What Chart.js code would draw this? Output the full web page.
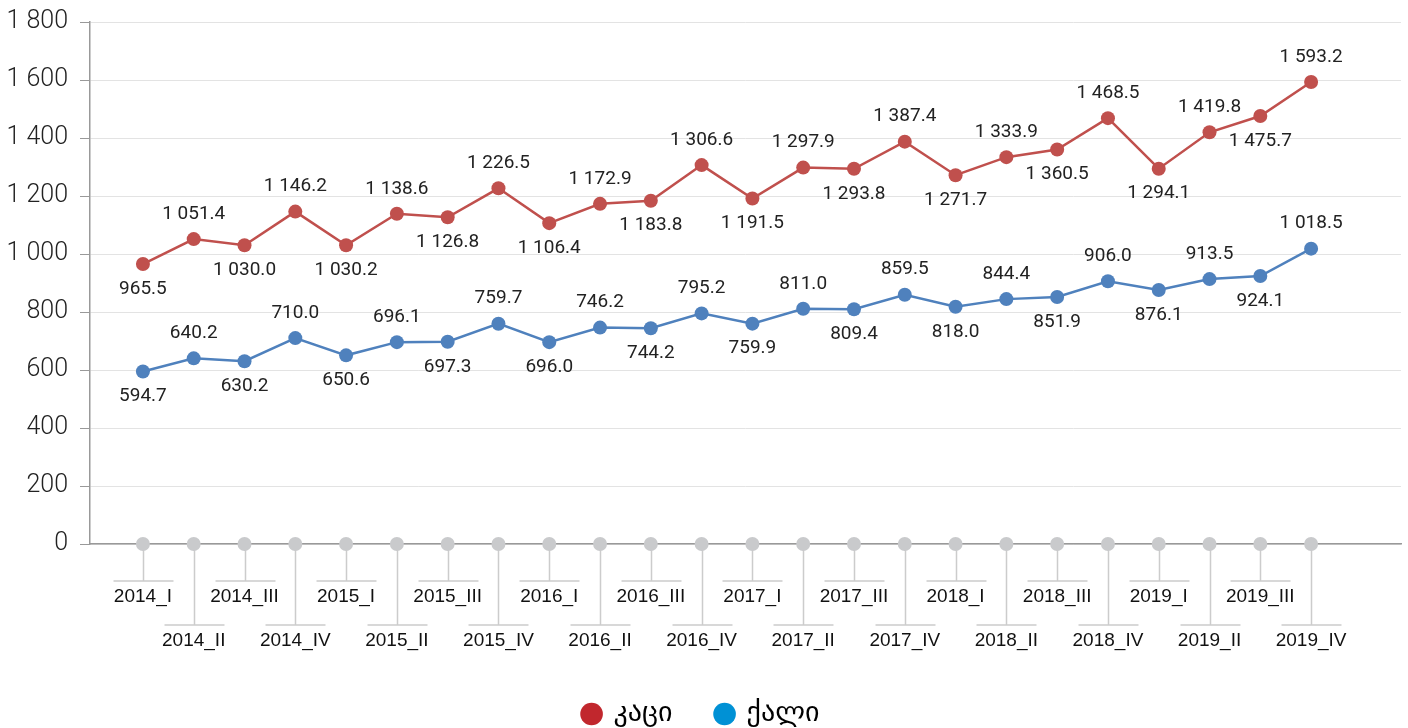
<!DOCTYPE html>
<html>
<head>
<meta charset="utf-8">
<script src="https://cdn.jsdelivr.net/npm/chart.js@4"></script>
<style>
    html, body { margin: 0; padding: 0; background: #fff; }
    #wrap { width: 1408px; height: 728px; }
</style>
</head>
<body>
<div id="wrap"><canvas id="chart"></canvas></div>
<script>
const quarters = ['2014_I', '2014_II', '2014_III', '2014_IV', '2015_I', '2015_II', '2015_III', '2015_IV',
    '2016_I', '2016_II', '2016_III', '2016_IV', '2017_I', '2017_II', '2017_III', '2017_IV',
    '2018_I', '2018_II', '2018_III', '2018_IV', '2019_I', '2019_II', '2019_III', '2019_IV'];
const men = [965.5, 1051.4, 1030.0, 1146.2, 1030.2, 1138.6, 1126.8, 1226.5, 1106.4, 1172.9, 1183.8, 1306.6,
    1191.5, 1297.9, 1293.8, 1387.4, 1271.7, 1333.9, 1360.5, 1468.5, 1294.1, 1419.8, 1475.7, 1593.2];
const women = [594.7, 640.2, 630.2, 710.0, 650.6, 696.1, 697.3, 759.7, 696.0, 746.2, 744.2, 795.2,
    759.9, 811.0, 809.4, 859.5, 818.0, 844.4, 851.9, 906.0, 876.1, 913.5, 924.1, 1018.5];
const baseline = [0, 0, 0, 0, 0, 0, 0, 0, 0, 0, 0, 0, 0, 0, 0, 0, 0, 0, 0, 0, 0, 0, 0, 0];
const yTicks = [0, 200, 400, 600, 800, 1000, 1200, 1400, 1600, 1800];
const seriesNames = ['კაცი', 'ქალი'];
const lineColors = ['#c0504d', '#4f81bd'];
const legendColors = ['#c1272d', '#0091d5'];

// "1 051.4" style numbers
function fmt(v, dec) {
    const s = v.toFixed(dec);
    const parts = s.split('.');
    parts[0] = parts[0].replace(/\B(?=(\d{3})+(?!\d))/g, ' ');
    return parts.join('.');
}

const toPoints = arr => arr.map((v, i) => ({ x: i, y: v }));

// connector lines + staggered quarter labels, value labels
const decorations = {
    id: 'decorations',
    beforeDatasetsDraw(chart) {
        const ctx = chart.ctx;
        const xs = chart.scales.x;
        const bottom = chart.chartArea.bottom;
        ctx.save();
        ctx.strokeStyle = '#cccccc';
        ctx.lineWidth = 1.5;
        quarters.forEach((q, i) => {
            const px = Math.round(xs.getPixelForValue(i)) + 0.5;
            const barY = bottom + (i % 2 ? 81 : 37);
            ctx.beginPath();
            ctx.moveTo(px, bottom);
            ctx.lineTo(px, barY);
            ctx.moveTo(px - 30, barY);
            ctx.lineTo(px + 30, barY);
            ctx.stroke();
        });
        ctx.restore();
    },
    afterDatasetsDraw(chart) {
        const ctx = chart.ctx;
        const xs = chart.scales.x;
        const bottom = chart.chartArea.bottom;
        ctx.save();
        ctx.textAlign = 'center';
        ctx.textBaseline = 'middle';
        ctx.fillStyle = '#111';
        ctx.font = '19px "Liberation Sans", Arial, sans-serif';
        quarters.forEach((q, i) => {
            const px = xs.getPixelForValue(i);
            const barY = bottom + (i % 2 ? 81 : 37);
            ctx.fillText(q, px, barY + 16);
        });

        ctx.font = '19px Roboto, "Noto Sans", sans-serif';
        ctx.fillStyle = '#222';
        [men, women].forEach((vals, d) => {
            const meta = chart.getDatasetMeta(d);
            vals.forEach((v, i) => {
                const pt = meta.data[i];
                const dy = i % 2 ? -25 : 25;
                ctx.fillText(fmt(v, 1), pt.x, pt.y + dy);
            });
        });
        ctx.restore();
    }
};

new Chart(document.getElementById('chart'), {
    type: 'line',
    data: {
        datasets: [{
            label: seriesNames[0],
            data: toPoints(men),
            borderColor: lineColors[0],
            backgroundColor: lineColors[0],
            borderWidth: 2.5,
            pointRadius: 7,
            pointBorderWidth: 0,
            tension: 0
        }, {
            label: seriesNames[1],
            data: toPoints(women),
            borderColor: lineColors[1],
            backgroundColor: lineColors[1],
            borderWidth: 2.5,
            pointRadius: 7,
            pointBorderWidth: 0,
            tension: 0
        }, {
            label: 'base',
            data: toPoints(baseline),
            showLine: false,
            clip: false,
            borderColor: '#c9cacc',
            backgroundColor: '#c9cacc',
            pointRadius: 7,
            pointBorderWidth: 0
        }]
    },
    options: {
        responsive: true,
        maintainAspectRatio: false,
        animation: false,
        layout: {
            padding: { top: 22, right: 5, bottom: -10, left: 0 }
        },
        scales: {
            x: {
                type: 'linear',
                min: -1.042,
                max: 24.77,
                ticks: { display: false },
                grid: { display: false, drawTicks: false },
                border: { color: '#999', width: 1.5 },
                afterFit: s => { s.height = 112; }
            },
            y: {
                min: 0,
                max: 1800,
                afterBuildTicks: s => { s.ticks = yTicks.map(v => ({ value: v })); },
                ticks: {
                    callback: v => fmt(v, 0),
                    font: { size: 25, family: 'Roboto', weight: 300, lineHeight: 0.5 },
                    color: '#222',
                    padding: 12
                },
                grid: { color: '#e3e3e3', tickColor: '#999', tickLength: 10 },
                border: { color: '#999', width: 1.5 },
                afterFit: s => { s.width = 90; }
            }
        },
        plugins: {
            tooltip: { enabled: false },
            legend: {
                position: 'bottom',
                labels: {
                    usePointStyle: true,
                    boxWidth: 16,
                    boxHeight: 16,
                    padding: 44,
                    color: '#111',
                    font: { size: 28, family: '"DejaVu Sans", sans-serif' },
                    generateLabels: () => seriesNames.map((n, i) => ({
                        text: n,
                        fillStyle: legendColors[i],
                        strokeStyle: legendColors[i],
                        lineWidth: 0,
                        pointStyle: 'circle',
                        datasetIndex: i,
                        hidden: false
                    }))
                }
            }
        }
    },
    plugins: [decorations]
});
</script>
</body>
</html>
